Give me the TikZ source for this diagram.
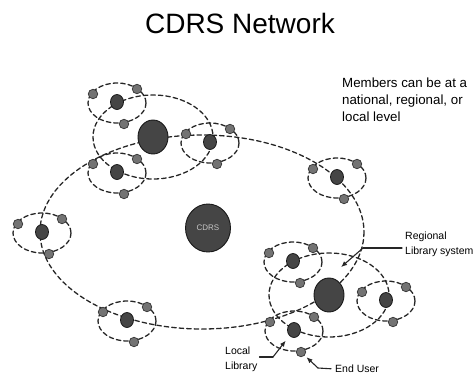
\documentclass[tikz,border=0pt]{standalone}
\usepackage{fontspec}
\setmainfont{Liberation Sans}
\usetikzlibrary{shapes.geometric,arrows.meta}

\begin{document}
\begin{tikzpicture}[x=1pt,y=-1pt,line cap=round,line join=round,
	ring/.style={draw=black!85,line width=1.3pt,dash pattern=on 4.5pt off 3pt},
	hub/.style={ellipse,draw=black!90,line width=0.9pt,fill=black!73,minimum width=30pt,minimum height=34pt,inner sep=0pt},
	member/.style={ellipse,draw=black!90,line width=0.8pt,fill=black!73,minimum width=13pt,minimum height=15pt,inner sep=0pt},
	user/.style={circle,draw=black!80,line width=0.7pt,fill=black!55,minimum size=9.5pt,inner sep=0pt},
	lbl/.style={font=\fontsize{10.5}{14.5}\selectfont,align=left,inner sep=0pt},
	pointer/.style={draw=black!85,line width=1.1pt}]
	\useasboundingbox (0,0) rectangle (474,376);
	\node[font=\fontsize{28}{30}\selectfont] (title) at (240,23) {CDRS Network};
	\node[lbl,font=\fontsize{13.3}{17}\selectfont,anchor=north west] (note) at (342,78) {Members can be at a\\national, regional, or\\local level};
	% rings
	\coordinate (net) at (202,232);
	\coordinate (rA) at (153,137);
	\coordinate (rB) at (329,295);
	\draw[ring] (net) ellipse (162 and 97);
	\draw[ring] (rA) ellipse (60 and 42);
	\draw[ring] (rB) ellipse (60 and 42);
	% local libraries with their users
	\tikzset{cluster/.pic={
			\draw[ring] (0,1) ellipse (29 and 20);
			\node[member] (-d) at (0,0) {};
			\node[user] (-g1) at (-24,-8) {};
			\node[user] (-g2) at (20,-13) {};
			\node[user] (-g3) at (7,22) {};
	}}
	\foreach \p/\x/\y in {cA1/117/102,cA2/117/172,cA3/210/142,cB1/293/261,cB2/386/300,cB3/294/330,cC/337/177,cD/42/232,cE/127/320}{\pic (\p) at (\x,\y) {cluster};}
	\node[hub] (hubA) at (rA) {};
	\node[hub] (hubB) at (rB) {};
	\node[hub,minimum width=45pt,minimum height=48pt,text=black!22,font=\fontsize{8}{8}\selectfont] (cdrs) at (208,228) {CDRS};
	% labels
	\node[lbl,anchor=north west] (reg) at (405,232) {Regional\\Library system};
	\node[lbl,anchor=north west] (loc) at (225,347) {Local\\Library};
	\node[lbl,anchor=west] (eu) at (335,369) {End User};
	\coordinate (regk) at (363,248);
	\coordinate (lock) at (273,357);
	\coordinate (euk) at (318,368);
	\draw[pointer,shorten <=3pt] (reg.west |- regk) -- (regk);
	\draw[pointer,-{Latex[length=6pt,width=5pt]},shorten >=16pt] (regk) -- (hubB.north);
	\draw[pointer,shorten <=2pt] (loc.east |- lock) -- (lock);
	\draw[pointer,-{Latex[length=6pt,width=5pt]},shorten >=6pt] (lock) -- (cB3-d);
	\draw[pointer,shorten <=4pt] (eu.west) -- (euk);
	\draw[pointer,-{Latex[length=6pt,width=5pt]},shorten >=2.5pt] (euk) -- (cB3-g3);
\end{tikzpicture}
\end{document}
